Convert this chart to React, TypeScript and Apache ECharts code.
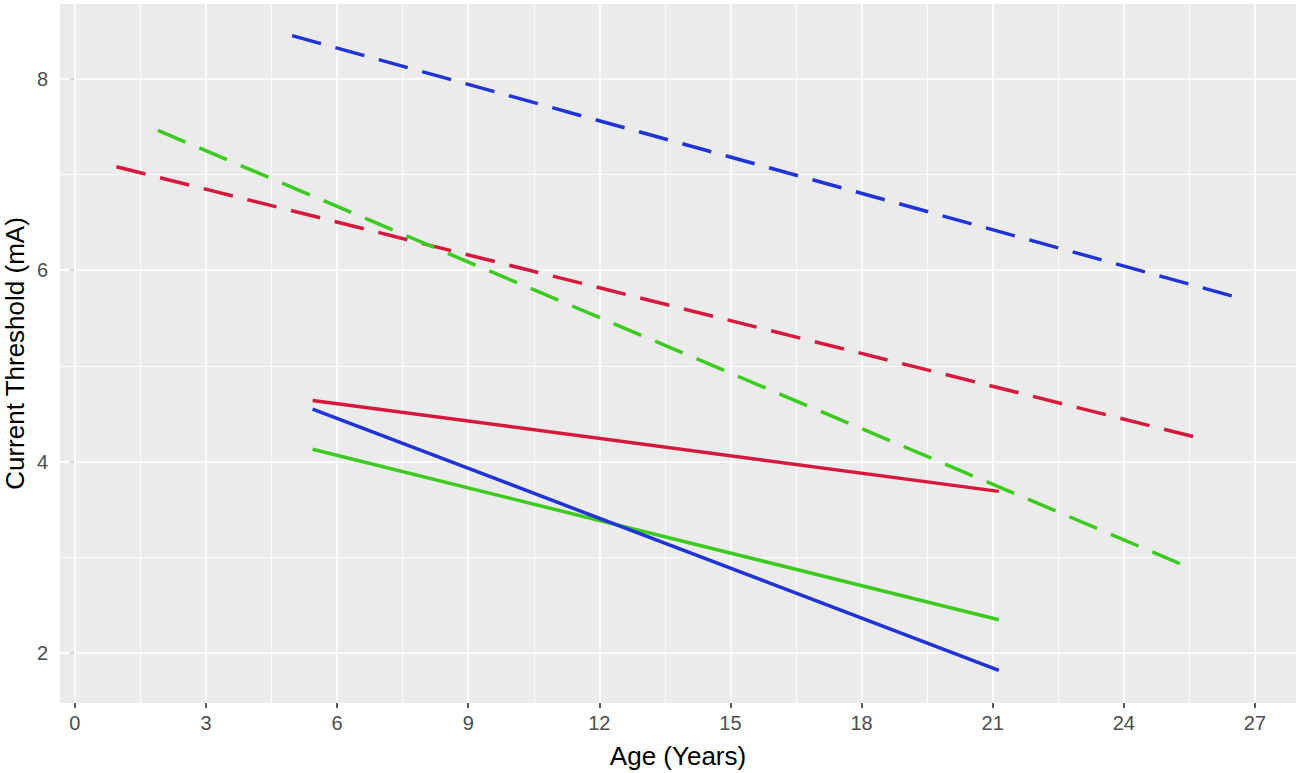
import React, { useEffect, useRef } from "react";
import * as echarts from "echarts";

const xTicks = [0, 3, 6, 9, 12, 15, 18, 21, 24, 27];
const xMinorGrid = [1.5, 4.5, 7.5, 10.5, 13.5, 16.5, 19.5, 22.5, 25.5];
const yTicks = [2, 4, 6, 8];
const yMinorGrid = [3, 5, 7];

const solidRed = [[5.44, 4.64], [21.14, 3.69]];
const solidBlue = [[5.44, 4.55], [21.14, 1.82]];
const solidGreen = [[5.44, 4.13], [21.14, 2.35]];
const dashedRed = [[0.95, 7.08], [25.7, 4.25]];
const dashedGreen = [[1.9, 7.46], [25.47, 2.9]];
const dashedBlue = [[4.97, 8.45], [26.48, 5.73]];

const RED = "#D6183D";
const BLUE = "#1F33D6";
const GREEN = "#3BCB1E";

export default function App() {
  const ref = useRef<HTMLDivElement>(null);
  useEffect(() => {
    if (!ref.current) return;
    const chart = echarts.init(ref.current, undefined, { renderer: "svg" });
    const font = "'Liberation Sans', Arial, sans-serif";
    const gridLines = [
      ...xTicks.map((v) => ({ xAxis: v, lineStyle: { width: 1.6 } })),
      ...xMinorGrid.map((v) => ({ xAxis: v, lineStyle: { width: 0.8 } })),
      ...yTicks.map((v) => ({ yAxis: v, lineStyle: { width: 1.6 } })),
      ...yMinorGrid.map((v) => ({ yAxis: v, lineStyle: { width: 0.8 } })),
    ];
    const mk = (data: number[][], color: string, dashed: boolean) => ({
      type: "line",
      data,
      symbol: "none",
      z: 10,
      lineStyle: { color, width: 3.5, type: dashed ? [30, 15] : "solid", cap: "butt" },
    });
    chart.setOption({
      animation: false,
      backgroundColor: "#ffffff",
      grid: {
        left: 60,
        top: 4,
        width: 1236,
        height: 699,
        show: true,
        backgroundColor: "#EBEBEB",
        borderWidth: 0,
        containLabel: false,
        outerBoundsMode: "none",
      },
      xAxis: {
        type: "value",
        min: -0.34,
        max: 27.94,
        axisLine: { show: false },
        axisTick: { show: true, customValues: xTicks, length: 5, lineStyle: { color: "#333333", width: 1.6 } },
        axisLabel: { customValues: xTicks, color: "#4D4D4D", fontSize: 20, margin: 10, fontFamily: font },
        splitLine: { show: false },
        name: "Age (Years)",
        nameLocation: "middle",
        nameGap: 40,
        nameMoveOverlap: false,
        nameTextStyle: { fontSize: 26, color: "#000000", fontFamily: font },
      },
      yAxis: {
        type: "value",
        min: 1.48,
        max: 8.78,
        axisLine: { show: false },
        axisTick: { show: true, customValues: yTicks, length: 5, lineStyle: { color: "#333333", width: 1.6 } },
        axisLabel: { customValues: yTicks, color: "#4D4D4D", fontSize: 20, margin: 12, fontFamily: font },
        splitLine: { show: false },
        name: "Current Threshold (mA)",
        nameLocation: "middle",
        nameRotate: 90,
        nameGap: 32,
        nameMoveOverlap: false,
        nameTextStyle: { fontSize: 26, lineHeight: 26, color: "#000000", fontFamily: font },
      },
      series: [
        {
          type: "line",
          data: [],
          z: 1,
          silent: true,
          markLine: {
            z: 1,
            silent: true,
            symbol: ["none", "none"],
            label: { show: false },
            animation: false,
            lineStyle: { color: "#FFFFFF", type: "solid" },
            data: gridLines,
          },
        },
        mk(dashedBlue, BLUE, true),
        mk(dashedRed, RED, true),
        mk(dashedGreen, GREEN, true),
        mk(solidRed, RED, false),
        mk(solidGreen, GREEN, false),
        mk(solidBlue, BLUE, false),
      ],
    });
    return () => chart.dispose();
  }, []);
  return (
    <div
      ref={ref}
      style={{ position: "fixed", left: 0, top: 0, width: 1300, height: 773, background: "#fff" }}
    />
  );
}
